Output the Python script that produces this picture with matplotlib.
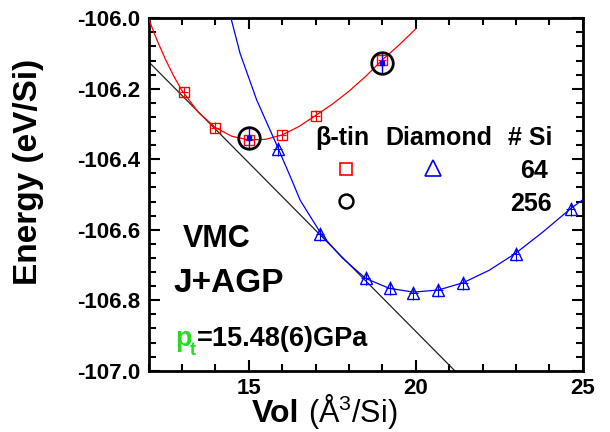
import matplotlib
matplotlib.use("Agg")
import matplotlib.pyplot as plt
from matplotlib.ticker import MultipleLocator, FormatStrFormatter
from matplotlib.lines import Line2D

plt.rcParams['font.family'] = ['Liberation Sans', 'DejaVu Sans']
plt.rcParams['axes.unicode_minus'] = False
plt.rcParams['mathtext.fontset'] = 'custom'
plt.rcParams['mathtext.rm'] = 'Liberation Sans'
plt.rcParams['mathtext.it'] = 'Liberation Sans:italic'
plt.rcParams['mathtext.bf'] = 'Liberation Sans:bold'

# ---- data ----
btin_vol = [13.07, 14.0, 15.0, 16.0, 17.0, 19.0]
btin_e = [-106.210, -106.310, -106.345, -106.331, -106.276, -106.118]

dia_vol = [15.87, 17.13, 18.50, 19.23, 19.93, 20.68, 21.43, 22.99, 24.64]
dia_e = [-106.372, -106.612, -106.738, -106.766, -106.779, -106.771, -106.750, -106.669, -106.540]

btin256_vol = [15.0, 19.0]
btin256_e = [-106.341, -106.128]

# fitted curves
btin_fit_vol = [12.0, 12.25, 12.5, 12.75, 13.0, 13.5, 14.0, 14.5, 15.0, 15.5, 16.0,
                16.5, 17.0, 17.5, 18.0, 18.5, 19.0, 19.5, 20.0]
btin_fit_e = [-106.000, -106.061, -106.115, -106.163, -106.205, -106.2675, -106.310,
              -106.335, -106.345, -106.3436, -106.331, -106.3073, -106.276, -106.244,
              -106.207, -106.165, -106.118, -106.076, -106.030]

dia_fit_vol = [14.47, 14.74, 15.24, 15.85, 16.29, 16.54, 17.19, 17.8, 18.5, 19.2,
               19.93, 20.68, 21.43, 22.2, 22.99, 23.8, 24.64, 25.0]
dia_fit_e = [-106.000, -106.099, -106.232, -106.362, -106.459, -106.516, -106.615,
             -106.680, -106.738, -106.766, -106.777, -106.771, -106.750, -106.715,
             -106.667, -106.607, -106.540, -106.515]

tangent_vol = [12.0, 21.2]
tangent_e = [-106.123, -107.003]

# ---- figure ----
W, H = 610, 432
fig = plt.figure(figsize=(W / 100, H / 100), dpi=100)
ax = fig.add_axes([148.5 / W, 1 - 370.7 / H, (582.7 - 148.5) / W, (370.7 - 18.3) / H])

ax.plot(tangent_vol, tangent_e, color='#222222', lw=0.9, zorder=2)
ax.plot(btin_fit_vol, btin_fit_e, color='red', lw=0.9, zorder=3)
ax.plot(dia_fit_vol, dia_fit_e, color='blue', lw=0.9, zorder=3)

ax.errorbar(btin_vol, btin_e, yerr=0.015, xerr=0.12, fmt='s', ms=7.2, mfc='none',
            mec='red', mew=1.0, ecolor='red', elinewidth=0.8, capsize=0, zorder=4)
ax.errorbar(dia_vol, dia_e, yerr=0.02, xerr=0.13, fmt='^', ms=8.5, mfc='none',
            mec='blue', mew=1.0, ecolor='blue', elinewidth=0.8, capsize=0, zorder=4)
ax.errorbar(btin256_vol, btin256_e, yerr=0.03, fmt='s', ms=3.5, mfc='blue', mec='blue',
            ecolor='blue', elinewidth=1.0, capsize=0, zorder=5)
ax.plot(btin256_vol, btin256_e, 'o', ms=15.5, mfc='none', mec='black', mew=2.0, zorder=6)

ax.set_xlim(12, 25)
ax.set_ylim(-107.0, -106.0)
ax.xaxis.set_major_locator(MultipleLocator(5))
ax.xaxis.set_minor_locator(MultipleLocator(1))
ax.yaxis.set_major_locator(MultipleLocator(0.2))
ax.yaxis.set_minor_locator(MultipleLocator(0.04))
ax.yaxis.set_major_formatter(FormatStrFormatter('%.1f'))
ax.xaxis.set_major_formatter(FormatStrFormatter('%d'))
ax.tick_params(which='both', direction='in', top=True, right=True, width=1.5)
ax.tick_params(which='major', length=8, labelsize=16)
ax.tick_params(which='minor', length=5)
ax.tick_params(axis='x', which='major', pad=5)
ax.tick_params(axis='y', which='major', pad=6)
for lab in ax.get_xticklabels() + ax.get_yticklabels():
    lab.set_fontweight('bold')
for sp in ax.spines.values():
    sp.set_linewidth(2.0)


def ftext(px, py, s, **kw):
    kw.setdefault('va', 'baseline')
    return fig.text(px / W, 1 - py / H, s, **kw)


# axis labels
ftext(29, 172, 'Energy (eV/Si)', rotation=90, ha='center', va='center',
      fontsize=24, fontweight='bold')
ftext(252, 422, 'Vol', fontsize=23, fontweight='bold', ha='left')
ftext(308, 422, r'(Å$^{3}$/Si)', fontsize=22, ha='left')

# legend block
ftext(342, 145, 'β-tin', fontsize=18, fontweight='bold', ha='center')
ftext(438.5, 145, 'Diamond', fontsize=18, fontweight='bold', ha='center')
ftext(552, 145, '# Si', fontsize=18, fontweight='bold', ha='right')
ftext(548, 178.3, '64', fontsize=18, fontweight='bold', ha='right')
ftext(552, 210.7, '256', fontsize=18, fontweight='bold', ha='right')
fig.add_artist(Line2D([345.7 / W], [1 - 169 / H], marker='s', ms=8.5, mfc='none',
                      mec='red', mew=1.2, transform=fig.transFigure))
fig.add_artist(Line2D([433.3 / W], [1 - 168.3 / H], marker='^', ms=11, mfc='none',
                      mec='blue', mew=1.2, transform=fig.transFigure))
fig.add_artist(Line2D([345.7 / W], [1 - 201 / H], marker='o', ms=10, mfc='none',
                      mec='black', mew=1.8, transform=fig.transFigure))

# annotations
ftext(183, 247, 'VMC', fontsize=22, fontweight='bold', ha='left')
ftext(173, 292, 'J+AGP', fontsize=24, fontweight='bold', ha='left')
ftext(175, 346, 'p', fontsize=19.5, fontweight='bold', color='#22dd22', ha='left')
ftext(190, 355, 't', fontsize=13, fontweight='bold', color='#22dd22', ha='left')
ftext(197, 346, '=15.48(6)GPa', fontsize=19.5, fontweight='bold', ha='left')

fig.savefig('out.png', dpi=100)
